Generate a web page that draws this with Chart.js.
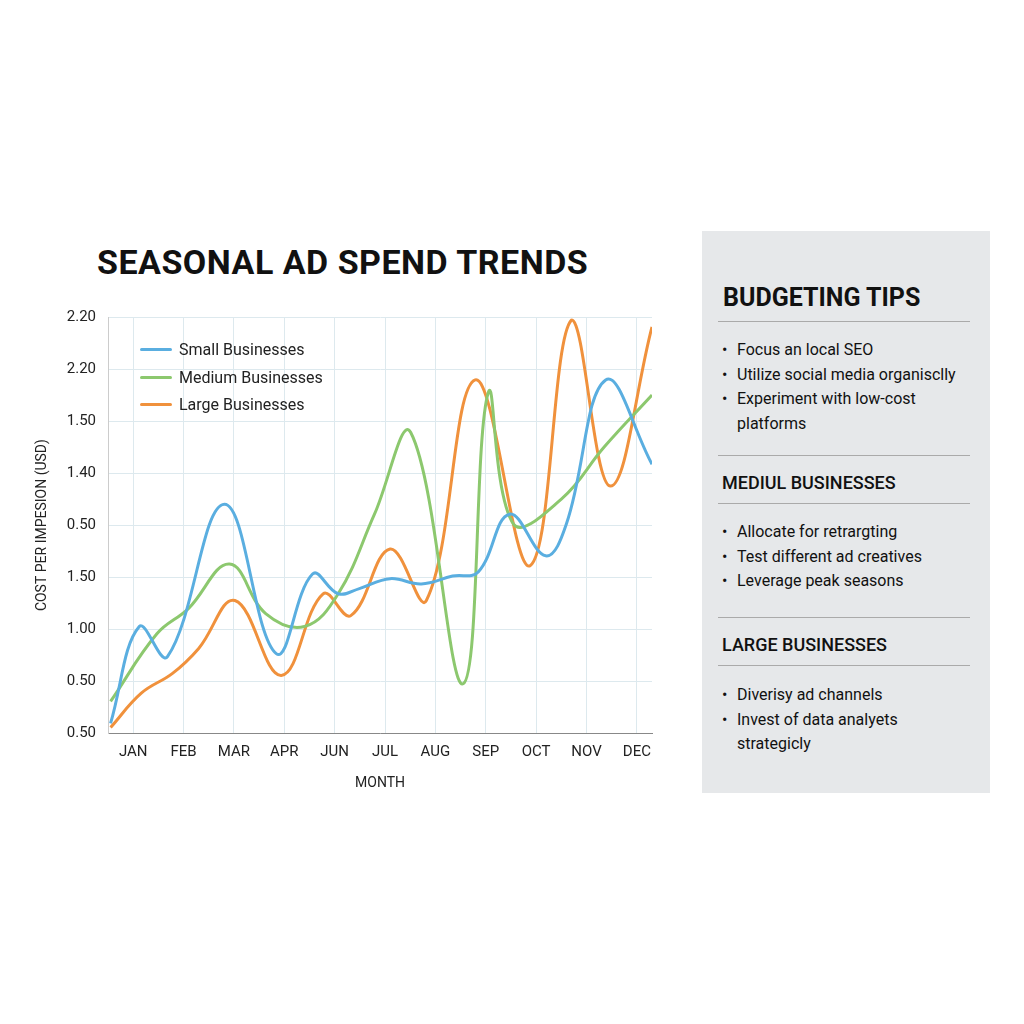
<!DOCTYPE html>
<html><head><meta charset="utf-8">
<script src="https://cdn.jsdelivr.net/npm/chart.js@4"></script>
<style>
body{margin:0;width:1024px;height:1024px;background:#fff;font-family:Roboto,"Noto Sans",sans-serif;position:relative;overflow:hidden}
#title{position:absolute;left:97px;top:242px;font-size:34px;font-weight:700;color:#111;letter-spacing:0.5px}
#c{position:absolute;left:30px;top:296px}
#legend{position:absolute;left:140px;top:336px;font-size:16px;color:#222;line-height:27.5px}
#legend div{display:flex;align-items:center}
#legend span{display:inline-block;width:32px;height:3px;margin-right:7px;border-radius:2px}
#panel{position:absolute;left:702px;top:231px;width:288px;height:562px;background:#e6e8ea;color:#111}
#panel h2{margin:0;position:absolute;left:21px;font-size:25px;font-weight:700}
#panel h3{margin:0;position:absolute;left:20px;font-size:18px;font-weight:500}
#panel .hr{position:absolute;left:16px;width:252px;height:1px;background:#aaa}
#panel ul{position:absolute;left:20px;margin:0;padding:0;list-style:none;font-size:16px;line-height:24.5px}
#panel li{padding-left:15px;position:relative}
#panel li:before{content:"•";position:absolute;left:0}
</style></head><body>
<div id="title">SEASONAL AD SPEND TRENDS</div>
<canvas id="c" width="640" height="500"></canvas>
<div id="legend">
<div><span style="background:#5aaee0"></span>Small Businesses</div>
<div><span style="background:#8cc86e"></span>Medium Businesses</div>
<div><span style="background:#f0913c"></span>Large Businesses</div>
</div>
<div id="panel">
<h2 style="top:52px">BUDGETING TIPS</h2>
<div class="hr" style="top:90px"></div>
<ul style="top:107px"><li>Focus an local SEO</li><li>Utilize social media organisclly</li><li>Experiment with low-cost<br>platforms</li></ul>
<div class="hr" style="top:224px"></div>
<h3 style="top:241px">MEDIUL BUSINESSES</h3>
<div class="hr" style="top:272px"></div>
<ul style="top:289px"><li>Allocate for retrargting</li><li>Test different ad creatives</li><li>Leverage peak seasons</li></ul>
<div class="hr" style="top:386px"></div>
<h3 style="top:403px">LARGE BUSINESSES</h3>
<div class="hr" style="top:434px"></div>
<ul style="top:452px"><li>Diverisy ad channels</li><li>Invest of data analyets<br>strategicly</li></ul>
</div>
<script>
const months=["JAN","FEB","MAR","APR","JUN","JUL","AUG","SEP","OCT","NOV","DEC"];
const yTickLabels=["0.50","0.50","1.00","1.50","0.50","1.40","1.50","2.20","2.20"];
const smallX=[-0.45,0.12,0.68,1.81,2.84,3.56,4.07,4.49,5.1,5.72,6.34,6.85,7.47,8.19,8.6,9.38,10.3];
const smallY=[0.19,2.05,1.47,4.4,1.53,3.06,2.68,2.78,2.97,2.87,3.02,3.1,4.21,3.41,4.02,6.79,5.17];
const mediumX=[-0.45,0.47,1.09,1.91,2.63,3.4,4.07,4.79,5.51,6.55,7.05,7.55,8.5,9.35,10.3];
const mediumY=[0.61,1.91,2.39,3.25,2.3,2.05,2.68,4.21,5.78,0.95,6.55,4.02,4.5,5.5,6.5];
const largeX=[-0.45,0.16,0.78,1.3,2.02,2.94,3.77,4.32,5.1,5.82,6.79,7.88,8.7,9.47,10.3];
const largeY=[0.11,0.77,1.15,1.63,2.55,1.11,2.68,2.26,3.54,2.55,6.79,3.22,7.94,4.75,7.81];
const pts=(xs,ys)=>xs.map((x,i)=>({x,y:ys[i]}));
const ds=(d,c)=>({data:d,borderColor:c,borderWidth:3,pointRadius:0,tension:0.4,fill:false});
new Chart(document.getElementById('c'),{type:'line',
data:{datasets:[ds(pts(smallX,smallY),'#5aaee0'),ds(pts(mediumX,mediumY),'#8cc86e'),ds(pts(largeX,largeY),'#f0913c')]},
options:{responsive:false,animation:false,events:[],layout:{padding:{top:10,right:18}},
plugins:{legend:{display:false},tooltip:{enabled:false}},
scales:{
x:{type:'linear',min:-0.5,max:10.3,grid:{color:'#dde9ee',drawTicks:false},border:{color:'#888'},
 afterBuildTicks:a=>{a.ticks=months.map((m,i)=>({value:i}))},
 ticks:{color:'#222',font:{size:15,family:'Roboto'},padding:10,maxRotation:0,autoSkip:false,callback:v=>months[v]},
 title:{display:true,text:'MONTH',color:'#222',font:{size:14,family:'Roboto'},padding:{top:4}}},
y:{type:'linear',min:0,max:8,grid:{color:'#dde9ee',drawTicks:false},border:{color:'#ccc'},
 ticks:{stepSize:1,color:'#222',font:{size:15,family:'Roboto'},padding:12,callback:v=>yTickLabels[v]},
 title:{display:true,text:'COST PER IMPESION (USD)',color:'#222',font:{size:14,family:'Roboto'}}}}}});
</script>
</body></html>
